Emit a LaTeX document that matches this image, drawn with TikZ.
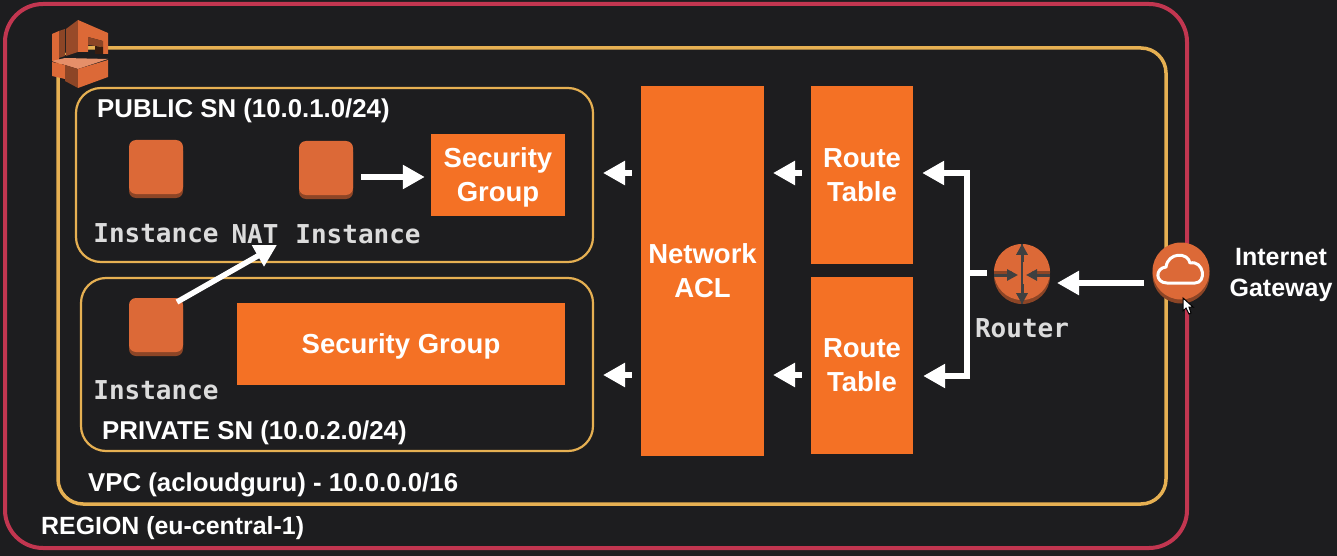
\documentclass[tikz,border=0pt]{standalone}
\usepackage{fontspec}
\setmainfont{Liberation Sans}
\setmonofont{DejaVu Sans Mono}
\usetikzlibrary{arrows.meta}
\definecolor{bgdark}{HTML}{1D1D1F}
\definecolor{regionred}{HTML}{C23650}
\definecolor{vpcyellow}{HTML}{E6B052}
\definecolor{awsorange}{HTML}{F47125}
\definecolor{iconorange}{HTML}{DC6937}
\definecolor{icondark}{HTML}{8C4526}
\definecolor{monogray}{HTML}{DCDCDC}
\newcommand{\nodepth}[1]{\raisebox{0pt}[\height][0pt]{#1}}
\tikzset{
  framelabel/.style={text=white,font=\fontsize{25.8}{31}\selectfont\bfseries,anchor=west,inner sep=0pt},
  monolabel/.style={text=monogray,font=\fontsize{26}{31}\selectfont\ttfamily\bfseries,inner sep=0pt},
  orangebox/.style={fill=awsorange,text=white,align=center,inner sep=0pt,
    font=\fontsize{27.5}{34}\selectfont\bfseries},
  instbox/.style={fill=iconorange,rounded corners=7pt,minimum width=54pt,minimum height=54pt,
    inner sep=0pt,preaction={fill=icondark,transform canvas={yshift=-4pt}}},
  roundicon/.style={circle,fill=iconorange,minimum size=56pt,inner sep=0pt,
    preaction={fill=icondark,transform canvas={yshift=-4pt}}},
  whitearrow/.style={white,line width=5.5pt,-{Triangle[length=22pt,width=23pt]}},
  whitebus/.style={white,line width=5.5pt},
  darkarrow/.style={black!75,line width=3pt,-{Triangle[length=11pt,width=11pt]}}
}
\begin{document}
\begin{tikzpicture}[x=1pt,y=-1pt]
  \fill[bgdark] (0,0) rectangle (1337,556);
  % outer frames
  \draw[regionred,line width=4pt,rounded corners=38pt] (5,4) rectangle (1187,548);
  \draw[vpcyellow,line width=3.5pt,rounded corners=25pt] (58,48) rectangle (1166,504);
  \draw[vpcyellow,line width=2.2pt,rounded corners=25pt] (76,88) rectangle (593,262);
  \draw[vpcyellow,line width=2.2pt,rounded corners=25pt] (81,278) rectangle (593,451);
  % vpc icon
  \fill[bgdark] (50,55) rectangle (110,60);
  \fill[iconorange] (52,34) -- (59,31) -- (59,64) -- (52,61) -- cycle;
  \fill[icondark] (59,31) -- (65,29) -- (65,56) -- (59,58) -- cycle;
  \fill[icondark!85!iconorange] (66,29) -- (78,20) -- (78,52) -- (66,56) -- cycle;
  \fill[iconorange] (78,20) -- (108,33) -- (108,54) -- (103,54) -- (103,41) -- (88,37) -- (88,52) -- (78,52) -- cycle;
  \fill[icondark] (88,37) -- (103,41) -- (103,47) -- (88,45) -- cycle;
  \fill[black!60!icondark] (95,46) -- (103,47) -- (103,54) -- (95,54) -- cycle;
  \fill[iconorange!75!white] (52,61) -- (65,58) -- (108,59) -- (78,69) -- cycle;
  \fill[iconorange] (52,62) -- (65,65) -- (65,79) -- (52,76) -- cycle;
  \fill[icondark] (65,65) -- (78,69) -- (78,88) -- (65,81) -- cycle;
  \fill[iconorange] (78,69) -- (108,60) -- (108,77) -- (78,88) -- cycle;
  % boxes
  \node[orangebox,minimum width=134pt,minimum height=82pt] (pubsg) at (498,175) {Security\\\nodepth{Group}};
  \node[orangebox,minimum width=328pt,minimum height=82pt] (privsg) at (401,344) {\nodepth{Security Group}};
  \node[orangebox,minimum width=123pt,minimum height=370pt] (nacl) at (702.5,271) {Network\\ACL};
  \node[orangebox,minimum width=102pt,minimum height=177pt] (pubrt) at (862,175) {Route\\Table};
  \node[orangebox,minimum width=102pt,minimum height=177pt] (privrt) at (862,365) {Route\\Table};
  % instances
  \node[instbox] (pubinst) at (156,167) {};
  \node[instbox] (natinst) at (326,168) {};
  \node[instbox] (privinst) at (156,325) {};
  \node[monolabel] (pubinsttxt) at (156,233) {Instance};
  \node[monolabel] (nattxt) at (255,234) {NAT};
  \node[monolabel] (natinsttxt) at (358,234) {Instance};
  \node[monolabel] (privinsttxt) at (156,390) {Instance};
  % router and gateway
  \node[roundicon] (router) at (1022,272) {};
  \node[roundicon,minimum size=57pt] (igw) at (1181,271) {};
  \node[monolabel] (routertxt) at (1022,328) {Router};
  \node[text=white,align=center,inner sep=0pt,font=\fontsize{25}{31}\selectfont\bfseries] (igwtxt) at (1281,275) {Internet\\Gateway};
  \draw[icondark,line width=3pt] (router.west) -- (1012,272);
  \draw[icondark,line width=3pt] (router.east) -- (1032,272);
  \draw[darkarrow] ([yshift=-3pt]router.west) -- (1018,275);
  \draw[darkarrow] ([yshift=-3pt]router.east) -- (1026,275);
  \draw[black!75,line width=2.5pt] (router.north) -- ([yshift=-4pt]router.south);
  \draw[darkarrow] (1022,262) -- (router.north);
  \draw[darkarrow] (1022,284) -- ([yshift=-4pt]router.south);
  % cloud
  \draw[white,line width=3pt,line join=round] (1167,283) .. controls (1155,283) and (1155,268) .. (1166,267)
    .. controls (1168,252) and (1188,252) .. (1190,263)
    .. controls (1204,260) and (1207,283) .. (1195,283) -- cycle;
  % labels
  \node[framelabel] (pubtxt) at (97,111) {PUBLIC SN (10.0.1.0/24)};
  \node[framelabel] (privtxt) at (102,433) {PRIVATE SN (10.0.2.0/24)};
  \node[framelabel] (vpctxt) at (88,485) {VPC (acloudguru) - 10.0.0.0/16};
  \node[framelabel,font=\fontsize{24.9}{31}\selectfont\bfseries] (regiontxt) at (41,528) {REGION (eu-central-1)};
  % arrows
  \coordinate (busup) at (967,173);
  \coordinate (busdown) at (967,376);
  \coordinate (busmid) at (967,273);
  \coordinate (igwout) at (1144,283);
  \coordinate (routerin) at (1057,283);
  \draw[whitearrow,shorten >=6pt] (361,177) -- (pubsg.west |- 0,177);
  \draw[whitearrow] (177,302) -- (277,245);
  \draw[whitearrow] (nacl.west |- 0,173) ++(-9,0) -- (603,173);
  \draw[whitearrow] (nacl.west |- 0,375) ++(-9,0) -- (603,375);
  \draw[whitearrow] (pubrt.west |- 0,173) ++(-9,0) -- (773,173);
  \draw[whitearrow] (privrt.west |- 0,375) ++(-9,0) -- (773,375);
  \draw[whitebus] (busup) -- (busdown);
  \draw[whitebus] (busmid) -- (987,273);
  \draw[whitearrow,shorten >=9pt] ([xshift=2.7pt]busup) -- (pubrt.east |- busup);
  \draw[whitearrow,shorten >=10pt] ([xshift=2.7pt]busdown) -- (privrt.east |- busdown);
  \draw[whitearrow] (igwout) -- (routerin);
  % pointer
  \fill[white,draw=black,line width=1pt] (1183,298) -- (1183,311) -- (1186,308) -- (1189,314) -- (1191,313) -- (1189,307) -- (1193,307) -- cycle;
\end{tikzpicture}
\end{document}
